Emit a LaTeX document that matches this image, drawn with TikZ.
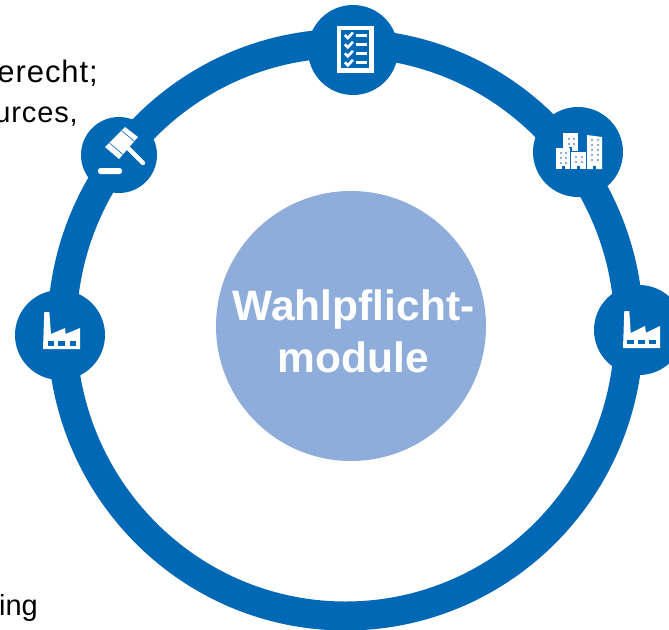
\documentclass[tikz,border=0pt]{standalone}
\usepackage{fontspec}
\setmainfont{Liberation Sans}
\newfontfamily\spacedfont[LetterSpace=3]{Liberation Sans}
\tikzset{
 x=1pt,y=-1pt,
 hub/.style={circle,fill=ringblue,minimum size=#1,inner sep=0pt,outer sep=0pt},
 clip text/.style={text=black,inner sep=0pt,anchor=base east},
 ico/.style={fill=white,draw=none},
 win/.style={fill=ringblue,draw=none},
}
\definecolor{ringblue}{HTML}{0068B4}
\definecolor{discblue}{HTML}{8EADDB}
\begin{document}
\begin{tikzpicture}
\useasboundingbox (0,0) rectangle (669,629);
\clip (0,0) rectangle (669,629);
\fill[white] (0,0) rectangle (669,629);
\node[clip text,font=\spacedfont\fontsize{31}{31}\selectfont] (t1) at (98,82.5) {erecht;};
\node[clip text,font=\spacedfont\fontsize{29}{29}\selectfont] (t2) at (78,122) {urces,};
\node[clip text,font=\fontsize{29}{29}\selectfont] (t3) at (38,615) {ing};
\draw[ringblue,line width=29pt] (345.5,329.7) ellipse [x radius=283.5,y radius=286.3];
\node[hub=270pt,fill=discblue] (core) at (351,326) {};
\node[font=\bfseries\fontsize{42.5}{52}\selectfont,text=white,align=center,inner sep=0pt] (title) at (353.5,331) {Wahlpflicht-\\module};
\node[hub=90pt] (top) at (353,50) {};
\node[hub=90pt] (city) at (578,152) {};
\node[hub=90pt] (fr) at (639,330) {};
\node[hub=90pt] (fl) at (60,335) {};
\node[hub=76pt] (gavel) at (119,155) {};
% checklist
\fill[ico] (336.7,25.7) rectangle (374,72.7);
\fill[win] (341,30) rectangle (369.3,68.3);
\foreach \y in {35,44.3,53.3,62.3}{
 \draw[white,line width=2.6pt] (344.8,\y) -- (347.8,\y+3) -- (353,\y-2.5);
 \fill[ico] (356,\y-1.5) rectangle (366.7,\y+2);
}
% city
\fill[ico] (563,133) rectangle (578,152);
\fill[win] (569,147) rectangle (572,169);
\fill[ico] (556,148) rectangle (570,169);
\fill[win] (570,150.5) rectangle (587,169);
\fill[ico] (571,152) rectangle (586,169);
\fill[ico] (587,135) -- (602,137) -- (602,169) -- (587,169) -- cycle;
\foreach \x/\y in {562/165.5,577/165.5,593/165.5}{\fill[win] (\x,\y) rectangle ++(3,3.5);}
\foreach \x/\y in {568/138,573/138,568/143,573/143,560/152,565/152,560/157,565/157,560/162,565/162,575/156,581/156,575/161,581/161,591/139,597/139,591/144,597/144,591/149,597/149,591/154,597/154,591/159,597/159}{
 \fill[discblue] (\x,\y) rectangle ++(2,2);
}
% factory left
\fill[ico] (44.3,312) -- (49.3,312) -- (51,334) -- (65,328) -- (65.7,334) -- (80,328) -- (80,349) -- (43,349) -- cycle;
\foreach \x in {47.7,58.3,69.7}{\fill[win] (\x,341) rectangle ++(6.3,5);}
% factory right
\fill[ico] (624.3,311) -- (629.3,311) -- (630.7,333) -- (645,326) -- (646,332.7) -- (660,326) -- (660,348) -- (623,348) -- cycle;
\foreach \x in {627.3,638.3,649.3}{\fill[win] (\x,340) rectangle ++(6.4,4.3);}
% gavel
\fill[ico] (125,127) -- (138,137) -- (119,159) -- (105,147) -- cycle;
\draw[ringblue,line width=.6pt] (121.5,130.5) -- (134.5,141.5);
\draw[ringblue,line width=.6pt] (109.5,143) -- (123,154.5);
\draw[white,line width=4.4pt,line cap=round] (128,148) -- (143,163);
\fill[ico,rounded corners=2.5pt] (98,168) rectangle (122,174);
\end{tikzpicture}
\end{document}
